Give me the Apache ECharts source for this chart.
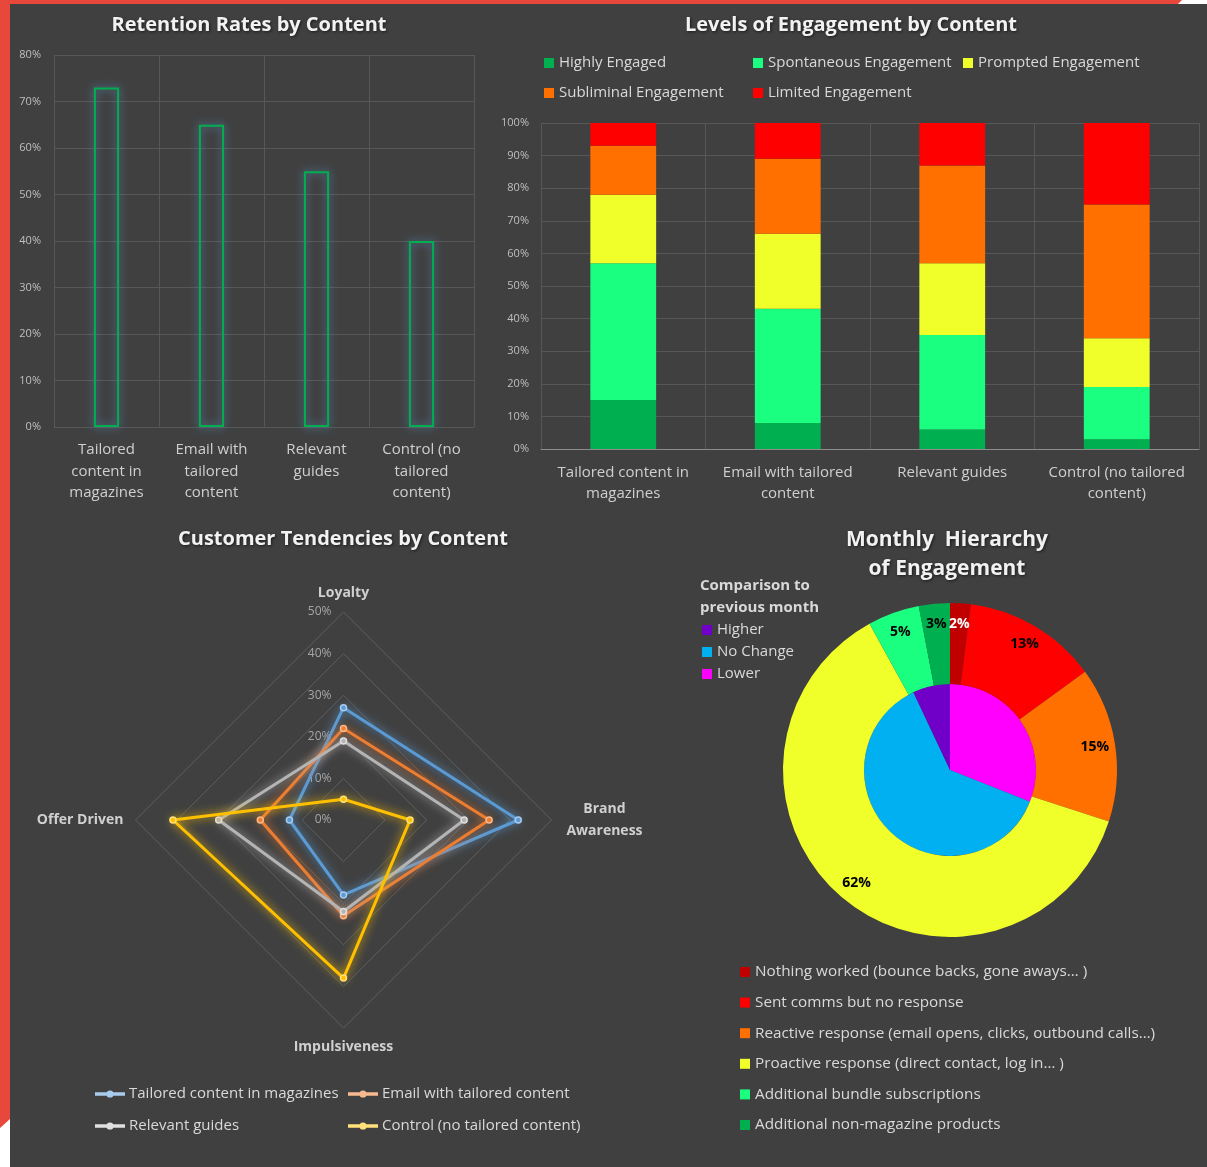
<!DOCTYPE html>
<html><head><meta charset="utf-8">
<script src="https://cdn.jsdelivr.net/npm/echarts@6/dist/echarts.min.js"></script>
<style>
html,body{margin:0;padding:0;width:1207px;height:1167px;overflow:hidden;background:#fff;}
#red{position:absolute;left:0;top:0;width:1207px;height:1167px;background:#e8473b;clip-path:polygon(0 0,1182px 0,1178px 4px,10px 4px,10px 1119px,0 1128px);}
#bg{position:absolute;left:10px;top:4px;right:0;bottom:0;background:#404040;}
#chart{position:absolute;left:0;top:0;width:1207px;height:1167px;}
</style></head><body>
<div id="red"></div><div id="bg"></div><div id="chart"></div>
<script>
// ---------- DATA ----------
const retentionCategories = ['Tailored content in magazines', 'Email with tailored content', 'Relevant guides', 'Control (no tailored content)'];
const retentionTickLabels = ['Tailored\ncontent in\nmagazines', 'Email with\ntailored\ncontent', 'Relevant\nguides', 'Control (no\ntailored\ncontent)'];
const retentionRates = [73, 65, 55, 40];
const retentionTicks = [0, 80, 10];

const engagementTickLabels = ['Tailored content in\nmagazines', 'Email with tailored\ncontent', 'Relevant guides', 'Control (no tailored\ncontent)'];
const engagementLevels = ['Highly Engaged', 'Spontaneous Engagement', 'Prompted Engagement', 'Subliminal Engagement', 'Limited Engagement'];
const highlyEngaged = [15, 8, 6, 3];
const spontaneousEngagement = [42, 35, 29, 16];
const promptedEngagement = [21, 23, 22, 15];
const subliminalEngagement = [15, 23, 30, 41];
const limitedEngagement = [7, 11, 13, 25];

const tendencyAxes = ['Loyalty', 'Offer Driven', 'Impulsiveness', 'Brand Awareness'];
const tendencyMax = 50;
const tendTailored = [27, 13, 18, 42];
const tendEmail = [22, 20, 23, 35];
const tendGuides = [19, 30, 22, 29];
const tendControl = [5, 41, 38, 16];

const hierarchyNames = ['Nothing worked (bounce backs, gone aways… )', 'Sent comms but no response', 'Reactive response (email opens, clicks, outbound calls…)', 'Proactive response (direct contact, log in… )', 'Additional bundle subscriptions', 'Additional non-magazine products'];
const hierarchyValues = [2, 13, 15, 62, 5, 3];
const comparisonNames = ['Lower', 'No Change', 'Higher'];
const comparisonValues = [31, 62, 7];
const comparisonLegendOrder = ['Higher', 'No Change', 'Lower'];

// ---------- STYLE ----------
const FONT = 'Open Sans';
const engagementColors = ['#00b050', '#1aff80', '#f0ff2a', '#ff7000', '#ff0000'];
const tendencyColors = ['#5b9bd5', '#ed7d31', '#b4b4b4', '#ffc000'];
const tendencyDotColors = ['#a9cbee', '#f7b98f', '#e0e0e0', '#ffe07a'];
const hierarchyColors = ['#c00000', '#ff0000', '#ff7000', '#f0ff2a', '#1aff80', '#00b050'];
const hierarchyLabelColors = ['#ffffff', '#000000', '#000000', '#000000', '#000000', '#000000'];
const comparisonColors = ['#ff00ff', '#00b0f0', '#7000c8'];

const titleStyle = {
  fontFamily: FONT, fontWeight: 'bold', fontSize: 20, color: '#f2f2f2',
  textShadowColor: 'rgba(0,0,0,0.6)', textShadowBlur: 3, textShadowOffsetX: 1, textShadowOffsetY: 1
};
const legendText = { fontFamily: FONT, fontSize: 15, color: '#d9d9d9', lineHeight: 20 };
const lineIcon = 'path://M0,3.3L30,3.3L30,4.7L0,4.7Z M17.8,4A2.8,2.8 0 1,1 12.2,4A2.8,2.8 0 1,1 17.8,4Z';

const chart = echarts.init(document.getElementById('chart'), null, { renderer: 'canvas', width: 1207, height: 1167 });

const engagementSeries = [highlyEngaged, spontaneousEngagement, promptedEngagement, subliminalEngagement, limitedEngagement].map((arr, i) => ({
  name: engagementLevels[i], type: 'bar', stack: 'eng', xAxisIndex: 1, yAxisIndex: 1,
  barWidth: '40%', data: arr, itemStyle: { color: engagementColors[i] }
}));

const tendencySets = [tendTailored, tendEmail, tendGuides, tendControl];
const radarSeries = tendencySets.map((vals, i) => ({
  name: retentionCategories[i], type: 'radar', radarIndex: 0, z: 3 + i,
  symbol: 'circle', symbolSize: 6,
  lineStyle: { width: 3, color: tendencyColors[i], shadowBlur: 10, shadowColor: tendencyColors[i] },
  itemStyle: { color: tendencyColors[i], borderColor: tendencyDotColors[i], borderWidth: 1.5 },
  data: [{ name: retentionCategories[i], value: vals }]
}));

const option = {
  animation: false,
  textStyle: { fontFamily: FONT },
  title: [
    { text: 'Retention Rates by Content', left: 249, top: 15, textAlign: 'center', padding: 0, textStyle: titleStyle },
    { text: 'Levels of Engagement by Content', left: 851, top: 15, textAlign: 'center', padding: 0, textStyle: titleStyle },
    { text: 'Customer Tendencies by Content', left: 343, top: 529, textAlign: 'center', padding: 0, textStyle: titleStyle },
    { text: 'Monthly  Hierarchy\nof Engagement', left: 947, top: 526, textAlign: 'center', padding: 0,
      textStyle: Object.assign({}, titleStyle, { fontSize: 21, lineHeight: 29 }) },
    { text: 'Comparison to\nprevious month', left: 700, top: 575, padding: 0,
      textStyle: { fontFamily: FONT, fontWeight: 'bold', fontSize: 15, lineHeight: 22, color: '#d9d9d9' } }
  ],
  legend: [
    { left: 544, top: 53, orient: 'vertical', padding: 0, itemGap: 10, itemWidth: 10, itemHeight: 10, icon: 'rect',
      data: [engagementLevels[0], engagementLevels[3]], textStyle: legendText, selectedMode: false },
    { left: 753, top: 53, orient: 'vertical', padding: 0, itemGap: 10, itemWidth: 10, itemHeight: 10, icon: 'rect',
      data: [engagementLevels[1], engagementLevels[4]], textStyle: legendText, selectedMode: false },
    { left: 963, top: 53, orient: 'vertical', padding: 0, itemGap: 10, itemWidth: 10, itemHeight: 10, icon: 'rect',
      data: [engagementLevels[2]], textStyle: legendText, selectedMode: false },
    { left: 95, top: 1084, orient: 'vertical', padding: 0, itemGap: 12, itemWidth: 28, itemHeight: 8, icon: lineIcon,
      data: [retentionCategories[0], retentionCategories[2]], textStyle: legendText, selectedMode: false },
    { left: 348, top: 1084, orient: 'vertical', padding: 0, itemGap: 12, itemWidth: 28, itemHeight: 8, icon: lineIcon,
      data: [retentionCategories[1], retentionCategories[3]], textStyle: legendText, selectedMode: false },
    { left: 702, top: 620, orient: 'vertical', padding: 0, itemGap: 2, itemWidth: 10, itemHeight: 10, icon: 'rect',
      data: comparisonLegendOrder, textStyle: legendText, selectedMode: false },
    { left: 740, top: 962, orient: 'vertical', padding: 0, itemGap: 10.6, itemWidth: 10, itemHeight: 10, icon: 'rect',
      data: hierarchyNames, textStyle: Object.assign({}, legendText, { fontSize: 15.3 }), selectedMode: false }
  ],
  grid: [
    { left: 54, top: 55, width: 420, height: 372 },
    { left: 541, top: 123, width: 658, height: 326 }
  ],
  xAxis: [
    { type: 'category', gridIndex: 0, data: retentionCategories,
      axisLine: { show: false }, axisTick: { show: false },
      splitLine: { show: true, lineStyle: { color: '#575757', width: 1 } },
      axisLabel: { formatter: (v, i) => retentionTickLabels[i], fontSize: 15, lineHeight: 21.5, color: '#cfcfcf', margin: 12, interval: 0 } },
    { type: 'category', gridIndex: 1, data: retentionCategories,
      axisLine: { show: true, lineStyle: { color: '#8c8c8c', width: 1 } }, axisTick: { show: false },
      splitLine: { show: true, lineStyle: { color: '#575757', width: 1 } },
      axisLabel: { formatter: (v, i) => engagementTickLabels[i], fontSize: 15, lineHeight: 21, color: '#cfcfcf', margin: 13, interval: 0 } }
  ],
  yAxis: [
    { type: 'value', gridIndex: 0, min: retentionTicks[0], max: retentionTicks[1], interval: retentionTicks[2],
      axisLine: { show: false }, axisTick: { show: false },
      splitLine: { lineStyle: { color: '#575757', width: 1 } },
      axisLabel: { formatter: '{value}%', fontSize: 11, color: '#bfbfbf', margin: 13 } },
    { type: 'value', gridIndex: 1, min: 0, max: 100, interval: 10,
      axisLine: { show: false }, axisTick: { show: false },
      splitLine: { lineStyle: { color: '#575757', width: 1 } },
      axisLabel: { formatter: '{value}%', fontSize: 11, color: '#bfbfbf', margin: 12 } }
  ],
  radar: {
    center: [343.5, 820], radius: 208, shape: 'polygon', splitNumber: 5,
    startAngle: 90,
    indicator: tendencyAxes.map((n, i) => i === 0
      ? { name: n, min: 0, max: tendencyMax, axisLabel: { show: true, formatter: '{value}%', color: '#a6a6a6', fontSize: 12, margin: 12 } }
      : { name: n, min: 0, max: tendencyMax }),
    nameGap: 12,
    axisName: {
      color: '#d0d0d0', fontWeight: 'bold', fontSize: 14, fontFamily: FONT,
      formatter: (n) => n === 'Brand Awareness' ? '{c|Brand}\n{c|Awareness}' : n,
      rich: { c: { width: 82, align: 'center', fontWeight: 'bold', fontSize: 14, color: '#d0d0d0', lineHeight: 22, fontFamily: FONT } }
    },
    axisLine: { show: false },
    axisTick: { show: false },
    axisLabel: { show: false },
    splitArea: { show: false },
    splitLine: { lineStyle: { color: '#5e5e5e', width: 1 } }
  },
  series: [
    { name: 'Retention', type: 'bar', xAxisIndex: 0, yAxisIndex: 0, barWidth: '24%', data: retentionRates,
      itemStyle: { color: 'rgba(0,0,0,0)', borderColor: '#00b050', borderWidth: 2, shadowBlur: 8, shadowColor: 'rgba(91,155,213,0.9)' } },
    ...engagementSeries,
    ...radarSeries,
    { name: 'Comparison', type: 'pie', center: [950, 770], radius: [0, 86], startAngle: 90, clockwise: true,
      label: { show: false }, labelLine: { show: false }, emphasis: { disabled: true },
      data: comparisonNames.map((n, i) => ({ name: n, value: comparisonValues[i], itemStyle: { color: comparisonColors[i] } })) },
    { name: 'Hierarchy', type: 'pie', center: [950, 770], radius: [86, 167], startAngle: 90, clockwise: true,
      label: { show: false }, labelLine: { show: false }, emphasis: { disabled: true },
      data: hierarchyNames.map((n, i) => ({ name: n, value: hierarchyValues[i], itemStyle: { color: hierarchyColors[i] } })) },
    { name: 'HierarchyLabels', type: 'pie', center: [950, 770], radius: [120, 167], startAngle: 90, clockwise: true,
      silent: true, legendHoverLink: false, emphasis: { disabled: true },
      itemStyle: { color: 'rgba(0,0,0,0)' }, labelLine: { show: false },
      label: { show: true, position: 'inside', formatter: '{c}%', fontWeight: 'bold', fontSize: 14, fontFamily: FONT },
      data: hierarchyNames.map((n, i) => ({ name: n, value: hierarchyValues[i], label: { color: hierarchyLabelColors[i] } })) }
  ]
};
chart.setOption(option);
</script>
</body></html>
